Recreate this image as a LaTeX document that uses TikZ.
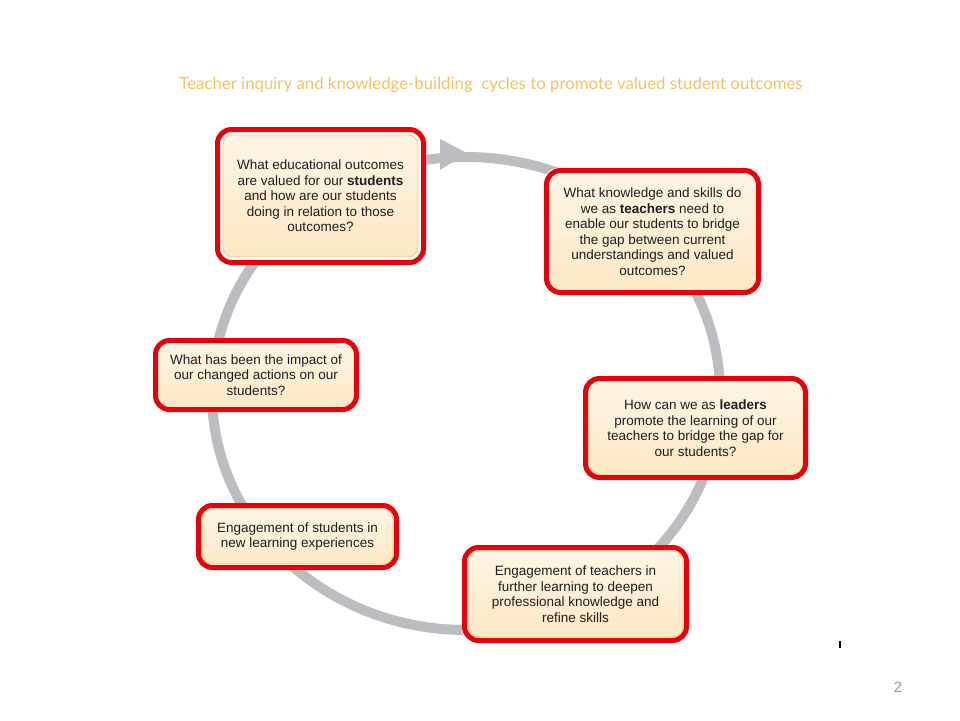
\documentclass[tikz,border=0pt]{standalone}
\usepackage{fontspec}
\setmainfont{Liberation Sans}
\newfontfamily\titlefont{Lato}
\usetikzlibrary{backgrounds}
\definecolor{ringgray}{RGB}{188,189,193}
\definecolor{boxred}{RGB}{232,0,10}
\definecolor{beigeT}{RGB}{254,245,229}
\definecolor{beigeB}{RGB}{252,232,196}
\definecolor{beigeE}{RGB}{240,200,125}
\definecolor{titleor}{RGB}{248,192,100}
\definecolor{txt}{RGB}{30,30,30}
\tikzset{
  qbox/.style={draw=boxred, line width=5pt, rounded corners=14pt, align=center,
    font=\fontsize{13.5}{15.5}\selectfont, text=txt, inner sep=0pt},
  innerbox/.style={top color=beigeT, bottom color=beigeB, draw=beigeE, line width=0.8pt, rounded corners=10pt},
  ring/.style={draw=ringgray, line width=10pt},
}
\newcommand{\backbox}[2]{%
  \fill[white, rounded corners=14pt] (#1.north west) rectangle (#1.south east);
  \draw[innerbox] ([shift={(#2,#2)}]#1.north west) rectangle ([shift={(-#2,-#2)}]#1.south east);}
\begin{document}
\begin{tikzpicture}[x=1pt,y=-1pt]
\useasboundingbox (0,0) rectangle (960,720);
\node[font=\titlefont\fontsize{16.8}{18}\selectfont, text=titleor] (title) at (491,85) {Teacher inquiry and knowledge-building\ \ cycles to promote valued student outcomes};

\node[qbox, minimum width=206pt, minimum height=133pt] (q1) at (320.5,196)
  {What educational outcomes\\are valued for our \textbf{students}\\and how are our students\\doing in relation to those\\outcomes?};
\node[qbox, minimum width=212pt, minimum height=122pt] (q2) at (652.5,231.5)
  {What knowledge and skills do\\we as \textbf{teachers} need to\\enable our students to bridge\\the gap between current\\understandings and valued\\outcomes?};
\node[qbox, minimum width=220pt, minimum height=99pt] (q3) at (695.5,428)
  {How can we as \textbf{leaders}\\promote the learning of our\\teachers to bridge the gap for\\our students?};
\node[qbox, minimum width=222pt, minimum height=93pt] (q4) at (575.5,594)
  {Engagement of teachers in\\further learning to deepen\\professional knowledge and\\refine skills};
\node[qbox, minimum width=198pt, minimum height=62pt] (q5) at (297.5,536.5)
  {Engagement of students in\\new learning experiences};
\node[qbox, minimum width=201pt, minimum height=69pt] (q6) at (256,375)
  {What has been the impact of\\our changed actions on our\\students?};

\begin{pgfonlayer}{background}
  \fill[white] (0,0) rectangle (960,720);
  \coordinate (c) at (466,393.5);
  \draw[ring] (c) ellipse [x radius=254, y radius=236.5];
  \coordinate (tip) at (467,153);
  \fill[ringgray] (tip) -- (440,139) -- (440,170) -- cycle;
  \backbox{q1}{8}
  \backbox{q2}{3}
  \backbox{q3}{5}
  \backbox{q4}{6}
  \backbox{q5}{6}
  \backbox{q6}{4}
\end{pgfonlayer}

\coordinate (tickA) at (840,641);
\coordinate (tickB) at (840,648);
\draw[line width=2pt, black] (tickA) -- (tickB);
\node[font=\fontsize{15}{16}\selectfont, text={rgb,255:red,150;green,150;blue,150}] (pg) at (898,687) {2};
\end{tikzpicture}
\end{document}
